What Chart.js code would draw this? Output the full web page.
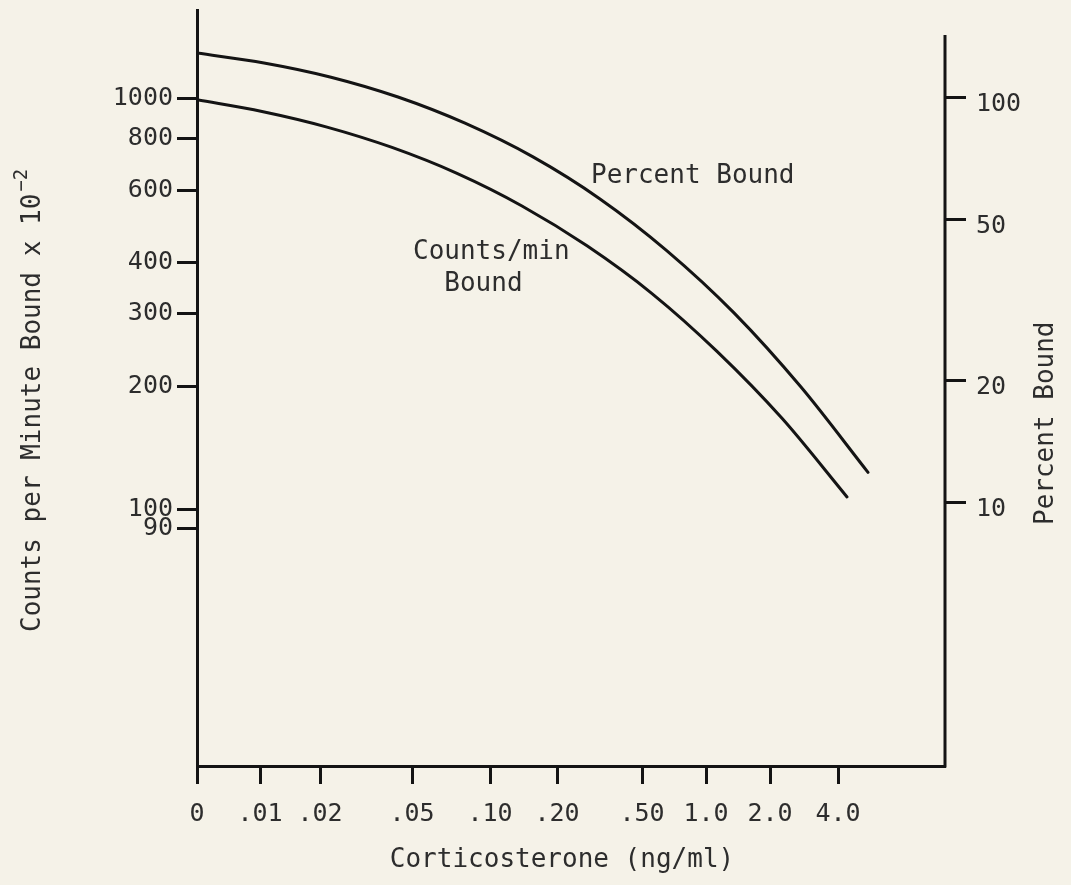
<!DOCTYPE html>
<html>
<head>
<meta charset="utf-8">
<title>Corticosterone standard curve</title>
<script src="https://cdn.jsdelivr.net/npm/chart.js@4.4.1/dist/chart.umd.min.js"></script>
<style>
  html, body { margin: 0; padding: 0; background: #f5f2e8; }
  #wrap { width: 1071px; height: 885px; }
</style>
</head>
<body>
<div id="wrap"><canvas id="myChart" width="1071" height="885"></canvas></div>
<script>
'use strict'

// the x axis in the original is drawn by hand, the concentration marks are
// not evenly spaced; xTickAt is where each mark sits along it (axis units)
const xTickLabels = ['0', '.01', '.02', '.05', '.10', '.20', '.50', '1.0', '2.0', '4.0'];
const xTickAt = [0, 6.3, 12.3, 21.5, 29.3, 36.0, 44.5, 50.9, 57.3, 64.1];

const countTicks = [90, 100, 200, 300, 400, 600, 800, 1000];
const percentTicks = [10, 20, 50, 100];

// counts per minute bound x 10^-2 (left axis)
const countsAt = [0, 6.5, 13, 19.5, 26, 32.5, 39, 45.5, 52, 58.5, 65];
const countsBound = [995, 932, 854, 762, 659, 549, 439, 336, 243, 167, 107.5];

// percent bound (right axis)
const percentAt = [0, 6.7, 13.4, 20.1, 26.8, 33.6, 40.3, 47.0, 53.7, 60.4, 67.1];
const percentBound = [128.3, 121.3, 111.9, 100, 86.2, 71.2, 56.1, 41.8, 29.4, 19.3, 11.9];

const ink = '#141414';
const typeColor = '#2d2d2d';
const typeFace = '"DejaVu Sans Mono", "Liberation Mono", monospace';

function toPoints(xs, ys){
  return xs.map((x, i) => ({ x: x, y: ys[i] }));
}

// axis titles, curve labels and the right axis line (it starts lower than the left one)
const paperText = {
  id: 'paperText',
  afterDraw(chart){
    const ctx = chart.ctx;
    const area = chart.chartArea;
    const xs = chart.scales.x;
    const yc = chart.scales.yCounts;

    ctx.save();
    ctx.strokeStyle = ink;
    ctx.lineWidth = 3;
    ctx.beginPath();
    ctx.moveTo(area.right, area.top + 25);
    ctx.lineTo(area.right, area.bottom + 1.5);
    ctx.stroke();

    ctx.fillStyle = typeColor;
    ctx.font = '26px ' + typeFace;
    ctx.textBaseline = 'middle';
    ctx.textAlign = 'left';

    ctx.fillText('Percent Bound', xs.getPixelForValue(39.4), yc.getPixelForValue(650));
    const cx = xs.getPixelForValue(21.6);
    const cy = yc.getPixelForValue(424);
    ctx.fillText('Counts/min', cx, cy);
    ctx.fillText('  Bound', cx, cy + 32);

    ctx.textAlign = 'center';
    ctx.fillText('Corticosterone (ng/ml)', (area.left + area.right) / 2 - 9, chart.height - 25);

    // left title with the 10^-2 superscript
    ctx.save();
    ctx.translate(33, 632);
    ctx.rotate(-Math.PI / 2);
    ctx.textAlign = 'left';
    const main = 'Counts per Minute Bound x 10';
    ctx.fillText(main, 0, 0);
    const w = ctx.measureText(main).width;
    ctx.font = '19px ' + typeFace;
    ctx.fillText('\u22122', w + 2, -11);
    ctx.restore();

    ctx.save();
    ctx.translate(1046, 525);
    ctx.rotate(-Math.PI / 2);
    ctx.textAlign = 'left';
    ctx.fillText('Percent Bound', 0, 0);
    ctx.restore();

    ctx.restore();
  }
};

function noPad(s){
  s.paddingTop = 0;
  s.paddingBottom = 0;
  s.paddingLeft = 0;
  s.paddingRight = 0;
}

const tickFont = { family: typeFace, size: 25 };

const ctx = document.getElementById('myChart').getContext('2d');
const myChart = new Chart(ctx, {
  type: 'line',
  data: {
    datasets: [{
      label: 'Counts/min Bound',
      data: toPoints(countsAt, countsBound),
      yAxisID: 'yCounts',
      borderColor: ink,
      borderWidth: 3,
      cubicInterpolationMode: 'monotone',
      borderCapStyle: 'round',
      pointRadius: 0
    },
    {
      label: 'Percent Bound',
      data: toPoints(percentAt, percentBound),
      yAxisID: 'yPercent',
      borderColor: ink,
      borderWidth: 3,
      cubicInterpolationMode: 'monotone',
      borderCapStyle: 'round',
      pointRadius: 0
    }]
  },
  options: {
    responsive: false,
    animation: false,
    layout: { padding: { top: 10, left: 0, right: 0, bottom: 0 } },
    plugins: {
      legend: { display: false },
      tooltip: { enabled: false }
    },
    scales: {
      x: {
        type: 'linear',
        position: 'bottom',
        min: 0,
        max: 74.8,
        bounds: 'data',
        afterBuildTicks: s => { s.ticks = xTickAt.map(v => ({ value: v })); },
        afterFit: s => { s.height = 119; noPad(s); },
        ticks: {
          autoSkip: false,
          maxRotation: 0,
          padding: 15,
          color: typeColor,
          font: tickFont,
          callback: (v, i) => xTickLabels[i]
        },
        grid: { display: true, drawOnChartArea: false, drawTicks: true, tickLength: 18, tickWidth: 3, tickColor: ink },
        border: { display: true, color: ink, width: 3 }
      },
      yCounts: {
        type: 'logarithmic',
        position: 'left',
        min: 23.8,
        max: 1646,
        bounds: 'data',
        afterBuildTicks: s => { s.ticks = countTicks.map(v => ({ value: v })); },
        afterFit: s => { s.width = 197; noPad(s); },
        ticks: {
          padding: 4,
          color: typeColor,
          font: tickFont,
          callback: v => String(v)
        },
        grid: { display: true, drawOnChartArea: false, drawTicks: true, tickLength: 20, tickWidth: 3, tickColor: ink },
        border: { display: true, color: ink, width: 3 }
      },
      yPercent: {
        type: 'logarithmic',
        position: 'right',
        min: 2.25,
        max: 163.8,
        bounds: 'data',
        afterBuildTicks: s => { s.ticks = percentTicks.map(v => ({ value: v })); },
        afterFit: s => { s.width = 126; noPad(s); },
        ticks: {
          padding: 10,
          labelOffset: 7,
          color: typeColor,
          font: tickFont,
          callback: v => String(v)
        },
        grid: { display: true, drawOnChartArea: false, drawTicks: true, tickLength: 21, tickWidth: 3, tickColor: ink },
        border: { display: false }
      }
    }
  },
  plugins: [paperText]
});
</script>
</body>
</html>
